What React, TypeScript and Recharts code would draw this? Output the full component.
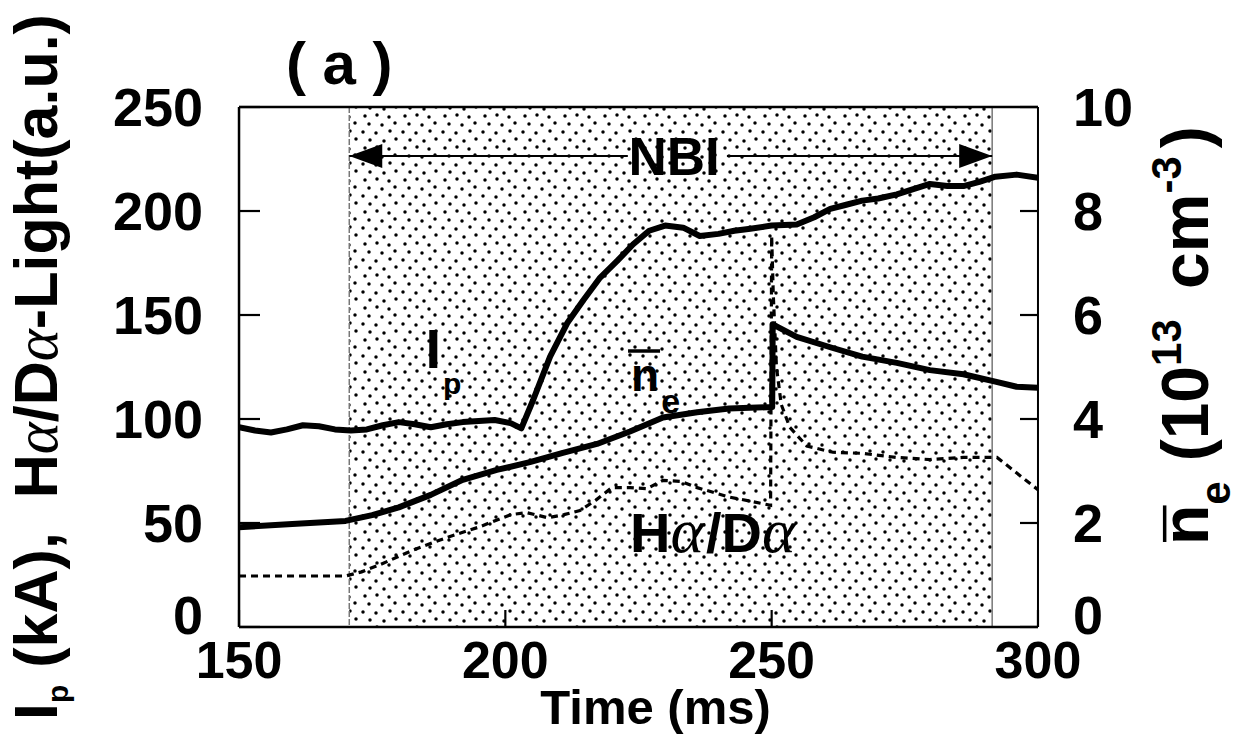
import type { ReactNode } from 'react'
import {
  LineChart,
  Line,
  XAxis,
  YAxis,
  ReferenceArea,
  ReferenceLine,
  ReferenceDot,
  Label,
} from 'recharts'

const FONT = '"Liberation Sans", Arial, Helvetica, sans-serif'
const GREEK = '"Liberation Serif", "DejaVu Serif", serif'

// plasma current I_p (kA)
const ipTime = [150, 153, 156, 159, 162, 165, 168, 171, 174, 177, 180, 183, 186, 189, 192, 195, 198, 201, 203, 205.2, 208.4, 211.6, 214.6, 217.8, 221, 224, 227, 230, 233.4, 236.5, 240, 243, 246, 250, 254.7, 258, 261, 264, 267, 270, 273.5, 276, 279.7, 283, 286, 289, 292, 296, 300]
const ipKA = [96, 94.5, 93.5, 95, 97, 96.5, 95, 94.5, 95, 97, 98.5, 97.5, 96, 97.5, 98.5, 99, 99.5, 98, 95.5, 109, 130, 146, 157, 168, 176, 184, 190.5, 193, 192, 188, 189, 190.5, 191.5, 193, 193.5, 197, 201, 203, 205, 206, 208, 210, 213, 212, 212, 214, 216.5, 217.5, 216]

// line-averaged electron density (10^13 cm^-3)
const neTime = [150, 160, 170, 175, 180, 186, 192, 198.4, 204.6, 210.8, 217.2, 223.4, 229.6, 236, 242, 250.1, 250.2, 254.7, 261, 267, 273.5, 279.7, 286, 292, 296, 300]
const neDensity = [1.92, 1.98, 2.04, 2.15, 2.3, 2.54, 2.83, 3.02, 3.17, 3.35, 3.52, 3.76, 4.03, 4.13, 4.2, 4.23, 5.82, 5.58, 5.38, 5.2, 5.08, 4.94, 4.86, 4.72, 4.62, 4.6]

// H-alpha / D-alpha light (a.u.)
const haTime = [150, 160, 170, 173, 176.5, 182.7, 189, 195, 201, 204, 208, 211, 214, 217, 220, 223.4, 226.6, 229.6, 233, 236, 242, 246, 249.8, 250, 250.3, 250.9, 251.8, 253.4, 256.6, 261.5, 267, 273.5, 279.7, 286, 292.3, 295.3, 297.5, 300]
const haLight = [24.5, 24.5, 24.5, 26.5, 30, 37, 43, 48, 54, 55, 52.5, 54, 56, 61, 67, 67, 66.5, 70.5, 70, 67, 62.5, 60.5, 58.5, 188, 160, 125, 107, 96, 87, 84, 83.5, 81.5, 80.5, 81.5, 81.5, 75.5, 71, 66]

// beam injection window (ms)
const nbiStart = 170.7
const nbiEnd = 291.4
const nbiArrowLevel = 226.4

const timeTicks = [150, 200, 250, 300]
const leftTicks = [0, 50, 100, 150, 200, 250]
const rightTicks = [0, 2, 4, 6, 8, 10]

const W = 1241
const H = 737
const MARGIN = { top: 107, right: 203, bottom: 110, left: 239 }
// axes get a hair of width so they still render, but take no room
const THIN = 0.01

const range = (from: number, to: number, step: number) => {
  const out: number[] = []
  for (let v = from; v <= to + 1e-9; v += step) out.push(+v.toFixed(3))
  return out
}

const toPoints = (ts: number[], vs: number[]) => ts.map((t, i) => ({ t, v: vs[i] }))

const tickFont = { fontFamily: FONT, fontWeight: 700, fontSize: 54, fill: '#000' }

type Side = 'bottom' | 'top' | 'left' | 'right'

// inward tick mark (+ optional label); with tickSize/tickMargin 0 the
// tick's x/y sit exactly on the axis line
const tickMark = (side: Side, len: number, withLabel = false) => (p: any) => {
  const { x, y, payload } = p
  const v = payload.value
  const end =
    side === 'bottom' ? [x, y - len] : side === 'top' ? [x, y + len] : side === 'left' ? [x + len, y] : [x - len, y]
  // the zeros sit a little above their tick so they clear the time labels
  const ly = v === 0 ? y - 12 : y
  let label: ReactNode = null
  if (withLabel && side === 'bottom') {
    label = <text x={x} y={y + 14} dy="0.71em" textAnchor="middle" {...tickFont} fontSize={52}>{v}</text>
  } else if (withLabel && side === 'left') {
    label = <text x={x - 36} y={ly} dy="0.36em" textAnchor="end" {...tickFont}>{v}</text>
  } else if (withLabel && side === 'right') {
    label = <text x={x + 35} y={ly} dy="0.36em" textAnchor="start" {...tickFont}>{v}</text>
  }
  return (
    <g>
      <line x1={x} y1={y} x2={end[0]} y2={end[1]} stroke="#000" strokeWidth={withLabel ? 2.2 : 1.6} />
      {label}
    </g>
  )
}

// stipple used for the NBI window
const stipple = [
  [3, 4], [16, 5], [30, 3], [10, 12], [24, 13], [36, 11],
  [5, 20], [17, 19], [29, 21], [9, 28], [22, 29], [35, 27],
]

const nbiShape = (p: any) => (
  <g>
    <defs>
      <pattern id="nbiDots" patternUnits="userSpaceOnUse" width={40} height={32}>
        {stipple.map(([x, y], i) => (
          <circle key={i} cx={x} cy={y} r={1.75} fill="#000" />
        ))}
      </pattern>
    </defs>
    <rect x={p.x} y={p.y} width={p.width} height={p.height} fill="url(#nbiDots)" />
    <line x1={p.x} y1={p.y} x2={p.x} y2={p.y + p.height} stroke="#777" strokeWidth={1.5} strokeDasharray="6 2" />
    <line x1={p.x + p.width} y1={p.y} x2={p.x + p.width} y2={p.y + p.height} stroke="#777" strokeWidth={1.5} />
  </g>
)

const arrowShape = (head: 'start' | 'end') => (p: any) => {
  const { x1, y1, x2, y2 } = p
  const tip = head === 'start' ? x1 : x2
  const back = head === 'start' ? 33 : -33
  return (
    <g>
      <line x1={x1} y1={y1} x2={x2} y2={y2} stroke="#000" strokeWidth={2} />
      <polygon points={`${tip},${y1} ${tip + back},${y1 - 12} ${tip + back},${y1 + 12}`} fill="#000" />
    </g>
  )
}

const textAt = (render: (x: number, y: number) => ReactNode) => (p: any) => <g>{render(p.cx, p.cy)}</g>

const alpha = (key: string, size?: number) => (
  <tspan key={key} fontFamily={GREEK} fontStyle="italic" fontWeight={400} fontSize={size}>α</tspan>
)

const leftTitle = (props: any) => {
  const vb = props.viewBox
  const cx = vb.x - 182
  const cy = vb.y + vb.height / 2
  return (
    <text
      transform={`translate(${cx},${cy}) rotate(-90)`}
      textAnchor="middle"
      fontFamily={FONT}
      fontWeight={700}
      fontSize={61}
      fill="#000"
      style={{ whiteSpace: 'pre' }}
    >
      <tspan>I</tspan>
      <tspan fontSize={30} dy={11}>p</tspan>
      <tspan dy={-11}>{' (kA),  H'}</tspan>
      {alpha('a1')}
      <tspan>/D</tspan>
      {alpha('a2')}
      <tspan>-Light(a.u.)</tspan>
    </text>
  )
}

const rightTitle = (props: any) => {
  const vb = props.viewBox
  const bx = vb.x + 170
  const by = vb.y + 438
  const fs = 66
  const barV = -0.52 * fs - 9
  return (
    <g transform={`translate(${bx},${by}) rotate(-90)`}>
      <line x1={3} y1={barV} x2={0.6 * fs} y2={barV} stroke="#000" strokeWidth={3.5} />
      <text x={0} y={0} fontFamily={FONT} fontWeight={700} fontSize={fs} fill="#000" style={{ whiteSpace: 'pre' }}>
        <tspan>n</tspan>
        <tspan fontSize={42} dy={22}>e</tspan>
        <tspan dy={-22} dx={20}>(10</tspan>
        <tspan fontSize={42} dy={-27}>13</tspan>
        <tspan dy={27} dx={12}>{' cm'}</tspan>
        <tspan fontSize={42} dy={-27}>-3</tspan>
        <tspan dy={27} dx={8}>)</tspan>
      </text>
    </g>
  )
}

export default function App() {
  const ip = toPoints(ipTime, ipKA)
  const ne = toPoints(neTime, neDensity)
  const ha = toPoints(haTime, haLight)

  return (
    <div style={{ position: 'absolute', left: 0, top: 0, width: W, height: H, background: '#fff' }}>
      <LineChart width={W} height={H} margin={MARGIN}>
        <ReferenceArea xAxisId="t" yAxisId="l" x1={nbiStart} x2={nbiEnd} y1={0} y2={250} shape={nbiShape} />

        {/* time axis, bottom and top, with inward ticks */}
        <XAxis
          xAxisId="t"
          type="number"
          dataKey="t"
          domain={[150, 300]}
          ticks={timeTicks}
          interval={0}
          allowDataOverflow
          height={THIN}
          tickSize={0}
          tickMargin={0}
          axisLine={{ stroke: '#000', strokeWidth: 2.5 }}
          tickLine={false}
          tick={tickMark('bottom', 17, true)}
        >
          <Label
            content={(props: any) => (
              <text
                x={props.viewBox.x + props.viewBox.width / 2 + 17}
                y={724}
                textAnchor="middle"
                fontFamily={FONT}
                fontWeight={700}
                fontSize={49}
                fill="#000"
              >
                Time (ms)
              </text>
            )}
          />
        </XAxis>
        <XAxis xAxisId="tMinor" type="number" domain={[150, 300]} ticks={range(150, 300, 5)} interval={0} height={THIN} tickSize={0} tickMargin={0} axisLine={false} tickLine={false} tick={tickMark('bottom', 8)} />
        <XAxis xAxisId="top" orientation="top" type="number" domain={[150, 300]} ticks={timeTicks} interval={0} height={THIN} tickSize={0} tickMargin={0} axisLine={{ stroke: '#000', strokeWidth: 2.5 }} tickLine={false} tick={tickMark('top', 13)} />
        <XAxis xAxisId="topMinor" orientation="top" type="number" domain={[150, 300]} ticks={range(150, 300, 5)} interval={0} height={THIN} tickSize={0} tickMargin={0} axisLine={false} tickLine={false} tick={tickMark('top', 7)} />

        {/* left: I_p and H-alpha light */}
        <YAxis
          yAxisId="l"
          type="number"
          domain={[0, 250]}
          ticks={leftTicks}
          interval={0}
          allowDataOverflow
          width={THIN}
          tickSize={0}
          tickMargin={0}
          axisLine={{ stroke: '#000', strokeWidth: 2.5 }}
          tickLine={false}
          tick={tickMark('left', 21, true)}
        >
          <Label content={leftTitle} />
        </YAxis>
        <YAxis yAxisId="lMinor" type="number" domain={[0, 250]} ticks={range(0, 250, 10)} interval={0} width={THIN} tickSize={0} tickMargin={0} axisLine={false} tickLine={false} tick={tickMark('left', 11)} />

        {/* right: density */}
        <YAxis
          yAxisId="r"
          orientation="right"
          type="number"
          domain={[0, 10]}
          ticks={rightTicks}
          interval={0}
          allowDataOverflow
          width={THIN}
          tickSize={0}
          tickMargin={0}
          axisLine={{ stroke: '#000', strokeWidth: 2 }}
          tickLine={false}
          tick={tickMark('right', 18, true)}
        >
          <Label content={rightTitle} />
        </YAxis>
        <YAxis yAxisId="rMinor" orientation="right" type="number" domain={[0, 10]} ticks={range(0, 10, 0.5)} interval={0} width={THIN} tickSize={0} tickMargin={0} axisLine={false} tickLine={false} tick={tickMark('right', 10)} />

        {/* NBI arrow */}
        <ReferenceLine xAxisId="t" yAxisId="l" segment={[{ x: nbiStart, y: nbiArrowLevel }, { x: 223, y: nbiArrowLevel }]} shape={arrowShape('start')} />
        <ReferenceLine xAxisId="t" yAxisId="l" segment={[{ x: 241.6, y: nbiArrowLevel }, { x: nbiEnd, y: nbiArrowLevel }]} shape={arrowShape('end')} />

        <Line xAxisId="t" yAxisId="l" data={ha} dataKey="v" type="linear" stroke="#000" strokeWidth={3.2} strokeDasharray="7 5" dot={false} isAnimationActive={false} />
        <Line xAxisId="t" yAxisId="r" data={ne} dataKey="v" type="linear" stroke="#000" strokeWidth={6} strokeLinejoin="round" dot={false} isAnimationActive={false} />
        <Line xAxisId="t" yAxisId="l" data={ip} dataKey="v" type="linear" stroke="#000" strokeWidth={6} strokeLinejoin="round" dot={false} isAnimationActive={false} />

        {/* annotations */}
        <ReferenceDot
          xAxisId="t" yAxisId="l" x={158.8} y={261.1} r={0} ifOverflow="visible"
          shape={textAt((x, y) => (
            <text x={x} y={y} fontFamily={FONT} fontWeight={700} fontSize={60} fill="#000" style={{ whiteSpace: 'pre' }}>( a )</text>
          ))}
        />
        <ReferenceDot
          xAxisId="t" yAxisId="l" x={231.7} y={217.3} r={0}
          shape={textAt((x, y) => (
            <text x={x} y={y} textAnchor="middle" fontFamily={FONT} fontWeight={700} fontSize={53} fill="#000">NBI</text>
          ))}
        />
        <ReferenceDot
          xAxisId="t" yAxisId="l" x={185} y={124.5} r={0}
          shape={textAt((x, y) => (
            <text x={x} y={y} fontFamily={FONT} fontWeight={700} fontSize={56} fill="#000">
              <tspan>I</tspan>
              <tspan fontSize={30} dx={2} dy={26}>p</tspan>
            </text>
          ))}
        />
        <ReferenceDot
          xAxisId="t" yAxisId="l" x={223.6} y={113.5} r={0}
          shape={textAt((x, y) => (
            <g>
              <line x1={x - 3} y1={y - 40} x2={x + 29} y2={y - 40} stroke="#000" strokeWidth={3.5} />
              <text x={x} y={y} fontFamily={FONT} fontWeight={700} fontSize={46} fill="#000">
                <tspan>n</tspan>
                <tspan fontSize={34} dx={2} dy={22}>e</tspan>
              </text>
            </g>
          ))}
        />
        <ReferenceDot
          xAxisId="t" yAxisId="l" x={223.4} y={36} r={0}
          shape={textAt((x, y) => (
            <text x={x} y={y} fontFamily={FONT} fontWeight={700} fontSize={56} fill="#000">
              <tspan>H</tspan>
              {alpha('h1', 64)}
              <tspan dx={2}>/D</tspan>
              {alpha('h2', 64)}
            </text>
          ))}
        />
      </LineChart>
    </div>
  )
}
